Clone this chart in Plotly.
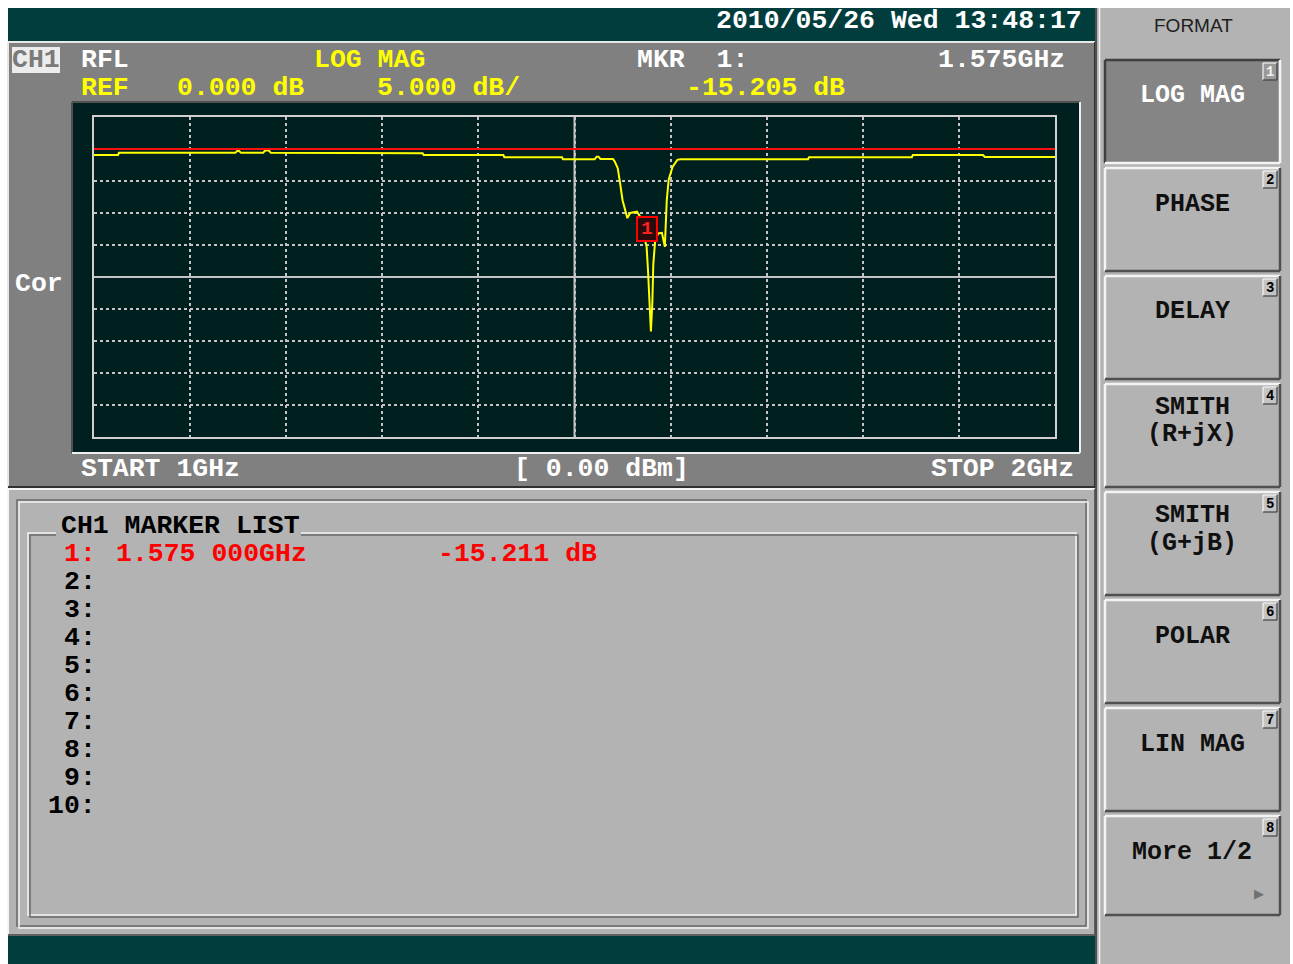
import plotly.graph_objects as go

# ---------------- data ----------------
START_GHZ = 1.0
STOP_GHZ = 2.0
REF_DB = 0.0
SCALE_DB = 5.0
MKR_F = 1.575
MKR_DB = -15.205

freq_ghz = [1.000, 1.025, 1.026, 1.147, 1.149, 1.151, 1.153, 1.176, 1.178, 1.182,
            1.184, 1.342, 1.343, 1.426, 1.427, 1.487, 1.488, 1.521, 1.523, 1.525,
            1.527, 1.540, 1.542, 1.545, 1.547, 1.550, 1.555, 1.558, 1.565, 1.568,
            1.571, 1.575, 1.5765, 1.578, 1.5795, 1.581, 1.582, 1.584, 1.587, 1.591,
            1.594, 1.596, 1.598, 1.602, 1.607, 1.610, 1.743, 1.744, 1.851, 1.852,
            1.925, 1.927, 2.000]
s11_db = [-0.94, -0.94, -0.60, -0.60, -0.30, -0.30, -0.60, -0.60, -0.25, -0.25,
          -0.60, -0.68, -0.94, -0.94, -1.30, -1.30, -1.60, -1.60, -1.20, -1.20,
          -1.56, -1.56, -2.0, -3.0, -4.9, -8.0, -10.8, -10.0, -9.8, -10.5,
          -13.0, -15.2, -19.0, -25.0, -28.5, -24.0, -18.0, -14.2, -13.2, -13.1,
          -15.3, -8.0, -4.8, -2.8, -1.7, -1.6, -1.6, -1.3, -1.3, -0.94,
          -0.94, -1.25, -1.25]

header_row1 = [("RFL", "white"), ("LOG MAG", "yellow"), ("MKR  1:", "white"), ("1.575GHz", "white")]
header_row2 = [("REF", "yellow"), ("0.000 dB", "yellow"), ("5.000 dB/", "yellow"), ("-15.205 dB", "yellow")]
date_text = "2010/05/26 Wed 13:48:17"
footer = ["START 1GHz", "[ 0.00 dBm]", "STOP 2GHz"]
list_title = "CH1 MARKER LIST"
list_rows = ["1:", "2:", "3:", "4:", "5:", "6:", "7:", "8:", "9:", "10:"]
list_m1_freq = "1.575 000GHz"
list_m1_val = "-15.211 dB"
softkeys = [["LOG MAG"], ["PHASE"], ["DELAY"], ["SMITH", "(R+jX)"], ["SMITH", "(G+jB)"],
            ["POLAR"], ["LIN MAG"], ["More 1/2"]]

# ---------------- styling ----------------
W, H = 1293, 964
TEAL = "#023d3e"
PANEL = "#808080"
LIGHT = "#b3b3b3"
DARKBG = "#001f1f"
GRID = "#c4c4c4"
MONO = "Liberation Mono"
YEL = "#ffff00"

def px(x):
    return x / W

def py(y):
    return 1 - y / H

shapes = []
annotations = []

def rect(x0, y0, x1, y1, fill=None, line=None, lw=0):
    shapes.append(dict(type="rect", xref="paper", yref="paper", layer="below",
                       x0=px(x0), x1=px(x1), y0=py(y1), y1=py(y0),
                       fillcolor=fill or "rgba(0,0,0,0)",
                       line=dict(color=line or "rgba(0,0,0,0)", width=lw)))

def seg(x0, y0, x1, y1, color, w=1.5):
    shapes.append(dict(type="line", xref="paper", yref="paper", layer="below",
                       x0=px(x0), x1=px(x1), y0=py(y0), y1=py(y1),
                       line=dict(color=color, width=w)))

def bevel(x0, y0, x1, y1, tl, br, w=2):
    seg(x0, y0, x1, y0, tl, w)
    seg(x0, y0, x0, y1, tl, w)
    seg(x0, y1, x1, y1, br, w)
    seg(x1, y0, x1, y1, br, w)

def txt(x, y, s, color, size=26.5, anchor="left", family=MONO, weight="bold", bg=None):
    annotations.append(dict(xref="paper", yref="paper", x=px(x), y=py(y), text=s,
                            showarrow=False, xanchor=anchor, yanchor="middle",
                            font=dict(family=family, size=size, color=color, weight=weight),
                            bgcolor=bg or "rgba(0,0,0,0)", borderpad=0))

# top and bottom status bars
rect(8, 8, 1097, 41, TEAL)
rect(8, 936, 1097, 964, TEAL)

# channel panel
rect(8, 42, 1095, 487, PANEL)
bevel(8, 42, 1095, 487, "#e8e8e8", "#303030", 2)
rect(72, 102, 1080, 453, DARKBG)
bevel(72, 102, 1080, 453, "#505050", "#f0f0f0", 2)

# lower marker list panel
rect(8, 489, 1095, 935, LIGHT)
bevel(8, 489, 1095, 935, "#f4f4f4", "#606060", 2)
rect(17, 500, 1086, 926, None, "#6a6a6a", 1.5)
rect(19, 502, 1088, 928, None, "#f4f4f4", 1.5)
rect(28, 533, 1076, 915, None, "#f4f4f4", 1.5)
rect(30, 535, 1078, 917, None, "#6a6a6a", 1.5)
rect(56, 529, 301, 538, LIGHT)

# right softkey panel
rect(1097, 8, 1290, 964, LIGHT)
seg(1096, 8, 1096, 964, "#505050", 2)
seg(1099.5, 8, 1099.5, 964, "#f4f4f4", 1.5)
txt(1193, 25, "FORMAT", "#202020", size=19, anchor="center", family="Liberation Sans", weight="normal")

for i, lab in enumerate(softkeys):
    top = 60 + 108 * i
    bot = top + 103 if i < 7 else 915
    sel = (i == 0)
    rect(1105, top, 1280, bot, "#858585" if sel else LIGHT)
    if sel:
        bevel(1105, top, 1280, bot, "#404040", "#f4f4f4", 2.5)
    else:
        bevel(1105, top, 1280, bot, "#f4f4f4", "#505050", 2.5)
    rect(1263, top + 3, 1277, top + 20, "#999999" if sel else "#c4c4c4", None, 0)
    bevel(1263, top + 3, 1277, top + 20, "#f4f4f4", "#404040", 1.2)
    txt(1270, top + 12, str(i + 1), "#f0f0f0" if sel else "#000000", size=14, anchor="center")
    col = "#ffffff" if sel else "#101010"
    if len(lab) == 1:
        txt(1192, top + 36, lab[0], col, size=25, anchor="center")
    else:
        txt(1192, top + 23, lab[0], col, size=25, anchor="center")
        txt(1192, top + 51, lab[1], col, size=25, anchor="center")
txt(1259, 893, "\u25B6", "#707070", size=13, anchor="center", family="DejaVu Sans", weight="normal")

# header texts
txt(715, 21, date_text, "#ffffff")
rect(12, 47, 60, 73, "#ececec")
txt(36, 60, "CH1", "#7a7a7a", anchor="center")
row1_x = [80, 313, 636, 937]
row2_x = [80, 176, 376, 685]
for (s, c), x in zip(header_row1, row1_x):
    txt(x, 60, s, "#ffffff" if c == "white" else YEL)
for (s, c), x in zip(header_row2, row2_x):
    txt(x, 88, s, "#ffffff" if c == "white" else YEL)
txt(14, 284, "Cor", "#ffffff")
txt(80, 469, footer[0], "#ffffff")
txt(513, 469, footer[1], "#ffffff")
txt(930, 469, footer[2], "#ffffff")

# marker list
txt(60, 526, list_title, "#000000")
for k, r in enumerate(list_rows):
    ycen = 554 + 28 * k
    txt(97, ycen, r, "#ff0000" if k == 0 else "#000000", anchor="right")
txt(115, 554, list_m1_freq, "#ff0000")
txt(437, 554, list_m1_val, "#ff0000")

# ---------------- traces ----------------
fig = go.Figure()
center_f = (START_GHZ + STOP_GHZ) / 2
center_db = REF_DB - 4 * SCALE_DB
fig.add_trace(go.Scatter(x=[center_f, center_f], y=[REF_DB - 9 * SCALE_DB, REF_DB + SCALE_DB],
                         mode="lines", line=dict(color=GRID, width=2), hoverinfo="skip"))
fig.add_trace(go.Scatter(x=[START_GHZ, STOP_GHZ], y=[center_db, center_db],
                         mode="lines", line=dict(color=GRID, width=2), hoverinfo="skip"))
fig.add_trace(go.Scatter(x=freq_ghz, y=s11_db, mode="lines",
                         line=dict(color=YEL, width=2), hoverinfo="skip"))
fig.add_trace(go.Scatter(x=[START_GHZ, STOP_GHZ], y=[REF_DB, REF_DB], mode="lines",
                         line=dict(color="#ff1010", width=2), hoverinfo="skip"))
fig.add_trace(go.Scatter(x=[START_GHZ - 0.005 * (STOP_GHZ - START_GHZ)], y=[REF_DB],
                         mode="markers", cliponaxis=False,
                         marker=dict(symbol="triangle-right", size=10, color=YEL,
                                     line=dict(width=0)), hoverinfo="skip"))

annotations.append(dict(xref="x", yref="y", x=MKR_F, y=MKR_DB, text="1", showarrow=False,
                        xanchor="center", yanchor="bottom", yshift=4,
                        font=dict(family=MONO, size=19, color="#ff2020", weight="bold"),
                        bordercolor="#ff0000", borderwidth=2, borderpad=1,
                        bgcolor="#2a0a0a", width=16, height=20))

fig.update_layout(
    width=W, height=H, margin=dict(l=0, r=0, t=0, b=0),
    paper_bgcolor="#ffffff", plot_bgcolor=DARKBG, showlegend=False,
    shapes=shapes, annotations=annotations,
    xaxis=dict(domain=[94 / W, 1055 / W], range=[START_GHZ, STOP_GHZ], dtick=0.1, tick0=START_GHZ,
               showgrid=True, gridcolor=GRID, gridwidth=1.5, griddash="3px,3px",
               showline=True, mirror=True, linecolor="#d0d0d0", linewidth=2,
               showticklabels=False, ticks="", zeroline=False, fixedrange=True),
    yaxis=dict(domain=[1 - 437 / H, 1 - 117 / H], range=[REF_DB - 9 * SCALE_DB, REF_DB + SCALE_DB],
               dtick=SCALE_DB, tick0=REF_DB,
               showgrid=True, gridcolor=GRID, gridwidth=1.5, griddash="3px,3px",
               showline=True, mirror=True, linecolor="#d0d0d0", linewidth=2,
               showticklabels=False, ticks="", zeroline=False, fixedrange=True),
)

fig.write_html("out.html", config={"displayModeBar": False},
               post_script="document.body.style.margin='0px';document.body.style.overflow='hidden';")
